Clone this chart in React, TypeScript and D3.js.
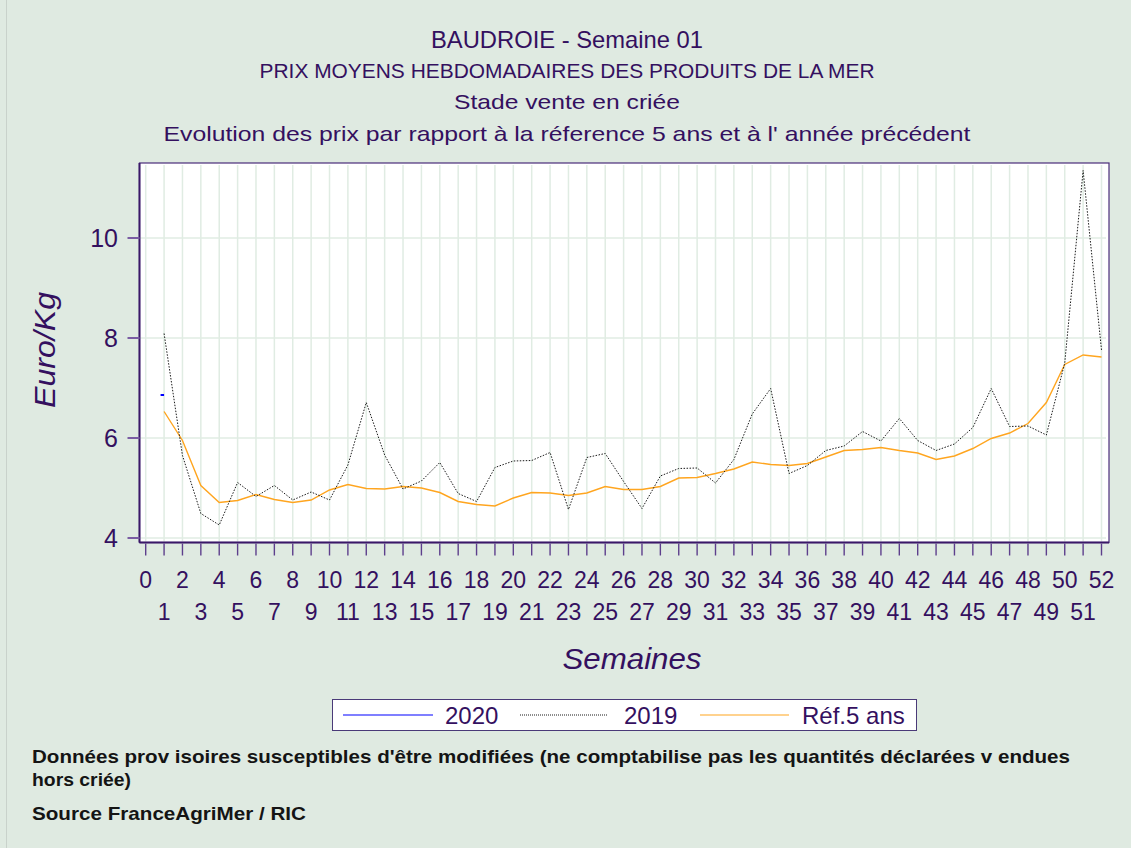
import React, { useEffect, useRef } from 'react';
import * as d3 from 'd3';

const weeks = d3.range(1, 53);

const prices2020 = [6.86];

const prices2019 = [
  8.09, 5.65, 4.49, 4.26, 5.11, 4.83, 5.05, 4.76, 4.92, 4.76,
  5.46, 6.71, 5.66, 4.98, 5.14, 5.51, 4.89, 4.73, 5.41, 5.54,
  5.55, 5.71, 4.57, 5.61, 5.69, 5.13, 4.59, 5.24, 5.39, 5.40,
  5.10, 5.57, 6.48, 6.99, 5.29, 5.45, 5.75, 5.84, 6.13, 5.94,
  6.39, 5.95, 5.75, 5.88, 6.21, 6.99, 6.23, 6.24, 6.06, 7.50,
  11.35, 7.76
];

const ref5ans = [
  6.53, 5.95, 5.05, 4.71, 4.75, 4.87, 4.77, 4.71, 4.76, 4.96,
  5.07, 4.99, 4.98, 5.03, 5.00, 4.91, 4.73, 4.67, 4.64, 4.80,
  4.91, 4.90, 4.85, 4.90, 5.03, 4.97, 4.97, 5.03, 5.20, 5.21,
  5.29, 5.38, 5.52, 5.47, 5.45, 5.49, 5.62, 5.75, 5.77, 5.81,
  5.75, 5.70, 5.57, 5.64, 5.79, 5.99, 6.10, 6.29, 6.71, 7.47,
  7.66, 7.62
];

const xTicks = d3.range(0, 53);
const yTicks = [4, 6, 8, 10];

const titles = [
  { text: 'BAUDROIE - Semaine 01', y: 48, size: 24, width: 272 },
  { text: 'PRIX MOYENS HEBDOMADAIRES DES PRODUITS DE LA MER', y: 78, size: 20, width: 615 },
  { text: 'Stade vente en criée', y: 109, size: 21, width: 226 },
  { text: "Evolution des prix par rapport à la réference 5 ans et à l' année précédent", y: 141, size: 21, width: 807 }
];

const footnotes = [
  { text: "Données prov isoires susceptibles d'être modifiées (ne comptabilise pas les quantités déclarées v endues", y: 763, width: 1038 },
  { text: 'hors criée)', y: 786, width: 99 },
  { text: 'Source FranceAgriMer / RIC', y: 820, width: 274 }
];

const W = 1131;
const H = 848;
const INK = '#34105f';
const BG = '#dfeae1';
const GRID = '#e0ece3';

const App = () => {
  const svgRef = useRef(null);

  useEffect(() => {
    const svg = d3.select(svgRef.current);
    svg.selectAll('*').remove();

    const left = 139.5, right = 1109, top = 163, bottom = 542.5;

    const x = d3.scaleLinear().domain([0, 52]).range([145.7, 1101.5]);
    const y = d3.scaleLinear().domain([4, 10]).range([538, 238]);

    svg.append('rect').attr('width', W).attr('height', H).attr('fill', BG);
    svg.append('line')
      .attr('x1', 6.5).attr('x2', 6.5).attr('y1', 0).attr('y2', H)
      .attr('stroke', '#c9d2cb').attr('stroke-width', 1);

    // titles
    svg.selectAll('text.title')
      .data(titles)
      .enter()
      .append('text')
      .attr('class', 'title')
      .attr('x', 567)
      .attr('y', (d) => d.y)
      .attr('text-anchor', 'middle')
      .attr('font-family', 'Liberation Sans, Arial, sans-serif')
      .attr('font-size', (d) => d.size)
      .attr('fill', INK)
      .attr('textLength', (d) => d.width)
      .attr('lengthAdjust', 'spacingAndGlyphs')
      .text((d) => d.text);

    // plot area
    svg.append('rect')
      .attr('x', left).attr('y', top)
      .attr('width', right - left).attr('height', bottom - top)
      .attr('fill', '#ffffff');

    const clip = svg.append('clipPath').attr('id', 'plotclip');
    clip.append('rect')
      .attr('x', left).attr('y', top)
      .attr('width', right - left).attr('height', bottom - top);

    const grid = svg.append('g');
    grid.selectAll('line.vg')
      .data(xTicks)
      .enter()
      .append('line')
      .attr('x1', (d) => x(d)).attr('x2', (d) => x(d))
      .attr('y1', top + 2).attr('y2', bottom - 1)
      .attr('stroke', GRID).attr('stroke-width', 1.5);
    grid.selectAll('line.hg')
      .data(yTicks)
      .enter()
      .append('line')
      .attr('x1', left + 1).attr('x2', right - 3)
      .attr('y1', (d) => y(d)).attr('y2', (d) => y(d))
      .attr('stroke', GRID).attr('stroke-width', 1.5);

    const line = d3.line()
      .x((d) => x(d[0]))
      .y((d) => y(d[1]));

    const lines = svg.append('g').attr('clip-path', 'url(#plotclip)');

    lines.append('path')
      .datum(weeks.map((w, i) => [w, ref5ans[i]]))
      .attr('d', line)
      .attr('fill', 'none')
      .attr('stroke', '#ffa51f')
      .attr('stroke-width', 1.4);

    lines.append('path')
      .datum(weeks.map((w, i) => [w, prices2019[i]]))
      .attr('d', line)
      .attr('fill', 'none')
      .attr('stroke', '#1a1a1a')
      .attr('stroke-width', 1)
      .attr('stroke-dasharray', '1.5,1.5');

    // 2020 has a single week: drawn as a short dash
    lines.selectAll('line.p2020')
      .data(prices2020)
      .enter()
      .append('line')
      .attr('x1', (d, i) => x(weeks[i]) - 3.5)
      .attr('x2', (d, i) => x(weeks[i]))
      .attr('y1', (d) => y(d)).attr('y2', (d) => y(d))
      .attr('stroke', '#0000ff')
      .attr('stroke-width', 2);

    // frame
    svg.append('rect')
      .attr('x', left).attr('y', top)
      .attr('width', right - left).attr('height', bottom - top)
      .attr('fill', 'none')
      .attr('stroke', '#4a2c7a')
      .attr('stroke-width', 1.2);
    svg.append('line')
      .attr('x1', left).attr('x2', right).attr('y1', bottom).attr('y2', bottom)
      .attr('stroke', '#3a1868').attr('stroke-width', 2);
    svg.append('line')
      .attr('x1', left).attr('x2', left).attr('y1', top).attr('y2', bottom)
      .attr('stroke', '#3a1868').attr('stroke-width', 2);

    // x axis ticks
    svg.selectAll('line.xt')
      .data(xTicks)
      .enter()
      .append('line')
      .attr('x1', (d) => x(d)).attr('x2', (d) => x(d))
      .attr('y1', bottom + 1).attr('y2', bottom + 13)
      .attr('stroke', '#5d3f8c').attr('stroke-width', 1.4);

    svg.selectAll('text.xl')
      .data(xTicks)
      .enter()
      .append('text')
      .attr('x', (d) => x(d))
      .attr('y', (d) => (d % 2 === 0 ? 588 : 620))
      .attr('text-anchor', 'middle')
      .attr('font-family', 'Liberation Sans, Arial, sans-serif')
      .attr('font-size', 23)
      .attr('fill', INK)
      .text((d) => d);

    // y axis ticks
    svg.selectAll('line.yt')
      .data(yTicks)
      .enter()
      .append('line')
      .attr('x1', left - 12).attr('x2', left)
      .attr('y1', (d) => y(d)).attr('y2', (d) => y(d))
      .attr('stroke', '#7a5ca3').attr('stroke-width', 2);

    svg.selectAll('text.yl')
      .data(yTicks)
      .enter()
      .append('text')
      .attr('x', 118)
      .attr('y', (d) => y(d))
      .attr('dy', '0.36em')
      .attr('text-anchor', 'end')
      .attr('font-family', 'Liberation Sans, Arial, sans-serif')
      .attr('font-size', 25)
      .attr('fill', INK)
      .text((d) => d);

    // axis titles
    svg.append('text')
      .attr('transform', 'translate(55,350) rotate(-90)')
      .attr('text-anchor', 'middle')
      .attr('font-family', 'Liberation Sans, Arial, sans-serif')
      .attr('font-size', 29)
      .attr('font-style', 'italic')
      .attr('fill', INK)
      .attr('textLength', 116)
      .attr('lengthAdjust', 'spacingAndGlyphs')
      .text('Euro/Kg');

    svg.append('text')
      .attr('x', 632)
      .attr('y', 669)
      .attr('text-anchor', 'middle')
      .attr('font-family', 'Liberation Sans, Arial, sans-serif')
      .attr('font-size', 29)
      .attr('font-style', 'italic')
      .attr('fill', INK)
      .attr('textLength', 139)
      .attr('lengthAdjust', 'spacingAndGlyphs')
      .text('Semaines');

    // legend
    const legend = svg.append('g');
    legend.append('rect')
      .attr('x', 332.5).attr('y', 699.5)
      .attr('width', 584).attr('height', 31)
      .attr('fill', '#ffffff')
      .attr('stroke', '#4a3a78').attr('stroke-width', 1);

    const legendItems = [
      { label: '2020', color: '#0000ff', dash: null, x1: 343, x2: 433, tx: 445 },
      { label: '2019', color: '#1a1a1a', dash: '1,1', x1: 520, x2: 608, tx: 624 },
      { label: 'Réf.5 ans', color: '#ffa51f', dash: null, x1: 700, x2: 789, tx: 802 }
    ];
    legendItems.forEach((it) => {
      legend.append('line')
        .attr('x1', it.x1).attr('x2', it.x2)
        .attr('y1', 715).attr('y2', 715)
        .attr('stroke', it.color)
        .attr('stroke-width', 1.2)
        .attr('stroke-dasharray', it.dash);
      legend.append('text')
        .attr('x', it.tx).attr('y', 723.5)
        .attr('font-family', 'Liberation Sans, Arial, sans-serif')
        .attr('font-size', 24)
        .attr('fill', INK)
        .text(it.label);
    });

    // footnotes
    svg.selectAll('text.foot')
      .data(footnotes)
      .enter()
      .append('text')
      .attr('x', 32)
      .attr('y', (d) => d.y)
      .attr('font-family', 'Liberation Sans, Arial, sans-serif')
      .attr('font-size', 19)
      .attr('font-weight', 'bold')
      .attr('fill', '#141414')
      .attr('textLength', (d) => d.width)
      .attr('lengthAdjust', 'spacingAndGlyphs')
      .text((d) => d.text);
  }, []);

  return (
    <svg
      ref={svgRef}
      width={W}
      height={H}
      style={{ position: 'absolute', left: 0, top: 0, display: 'block' }}
    />
  );
};

export default App;
